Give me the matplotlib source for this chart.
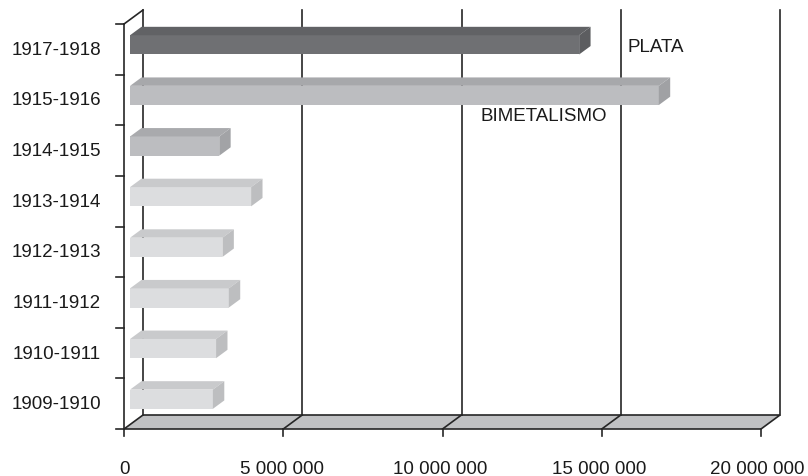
import matplotlib.pyplot as plt
from matplotlib.patches import Polygon

plt.rcParams['font.family'] = ['Liberation Sans', 'DejaVu Sans']

# datos (de abajo hacia arriba)
periodos = ['1909-1910', '1910-1911', '1911-1912', '1912-1913',
            '1913-1914', '1914-1915', '1915-1916', '1917-1918']
valores = [2.6e6, 2.7e6, 3.1e6, 2.9e6, 3.8e6, 2.8e6, 16.6e6, 14.1e6]
grupo = ['oro', 'oro', 'oro', 'oro', 'oro', 'medio', 'bimetal', 'plata']
ticks_x = [0, 5e6, 10e6, 15e6, 20e6]
etiquetas_x = ['0', '5 000 000', '10 000 000', '15 000 000', '20 000 000']

# colores: (frente, arriba, lado)
colores = {
    'oro': ('#dcdddf', '#c9cacc', '#bdbec0'),
    'medio': ('#bcbdc0', '#a9aaad', '#a2a3a6'),
    'bimetal': ('#bcbdc0', '#a7a8ab', '#a0a1a4'),
    'plata': ('#6f7073', '#616265', '#5c5d60'),
}

fig = plt.figure(figsize=(8.08, 4.77), dpi=100)
ax = fig.add_axes([124 / 808, 47 / 477, 637 / 808, 405 / 477])
xmax = 20e6
n = len(periodos)
ax.set_xlim(0, xmax)
ax.set_ylim(0, n)
ax.axis('off')

# desplazamiento de profundidad (en unidades de datos)
dx = 19 / 637 * xmax
dy = 14 / 405 * n
lw = 1.2
lc = '#262626'

# piso
piso = Polygon([(0, 0), (xmax, 0), (xmax + dx, dy), (dx, dy)], closed=True,
               facecolor='#c0c1c3', edgecolor=lc, lw=lw, clip_on=False, zorder=1)
ax.add_patch(piso)
for t in ticks_x[1:-1]:
    ax.plot([t, t + dx], [0, dy], color=lc, lw=lw, clip_on=False, zorder=2)

# pared de fondo: lineas de division
for t in ticks_x:
    ax.plot([t + dx, t + dx], [dy, n + dy], color=lc, lw=lw, clip_on=False, zorder=2)

# eje vertical frontal y diagonal superior
ax.plot([0, 0], [0, n], color=lc, lw=lw, clip_on=False, zorder=2)
ax.plot([0, dx], [n, n + dy], color=lc, lw=lw, clip_on=False, zorder=2)

# marcas
tx = 8 / 637 * xmax
ty = 7 / 405 * n
for i in range(n + 1):
    ax.plot([-tx, 0], [i, i], color=lc, lw=lw, clip_on=False, zorder=2)
for t in ticks_x:
    ax.plot([t, t], [0, -ty], color=lc, lw=lw, clip_on=False, zorder=2)

# barras 3D
f0, f1 = 0.32, 0.92
h = 0.38
for i, (v, g) in enumerate(zip(valores, grupo)):
    frente, arriba, lado = colores[g]
    x0 = f0 * dx
    y0 = i + 0.5 - h / 2 + f0 * dy
    ddx = (f1 - f0) * dx
    ddy = (f1 - f0) * dy
    cara = Polygon([(x0, y0), (x0 + v, y0), (x0 + v, y0 + h), (x0, y0 + h)],
                   closed=True, facecolor=frente, edgecolor='none', zorder=4)
    tapa = Polygon([(x0, y0 + h), (x0 + v, y0 + h), (x0 + v + ddx, y0 + h + ddy),
                    (x0 + ddx, y0 + h + ddy)], closed=True,
                   facecolor=arriba, edgecolor='none', zorder=4)
    costado = Polygon([(x0 + v, y0), (x0 + v + ddx, y0 + ddy),
                       (x0 + v + ddx, y0 + h + ddy), (x0 + v, y0 + h)], closed=True,
                      facecolor=lado, edgecolor='none', zorder=4)
    for p in (cara, tapa, costado):
        ax.add_patch(p)
    ax.text(-0.72e6, i + 0.5, periodos[i], ha='right', va='center',
            fontsize=13.5, color='#1a1a1a')

for t, lab in zip(ticks_x, etiquetas_x):
    ax.text(t * 0.994, -0.78, lab, ha='center', va='center', fontsize=13.5,
            color='#1a1a1a')

ax.text(15.82e6, 7.55, 'PLATA', ha='left', va='center', fontsize=13.5, color='#1a1a1a', zorder=5)
ax.text(11.2e6, 6.2, 'BIMETALISMO', ha='left', va='center', fontsize=13.5, color='#1a1a1a', zorder=5)

fig.savefig('out.png', dpi=100)
